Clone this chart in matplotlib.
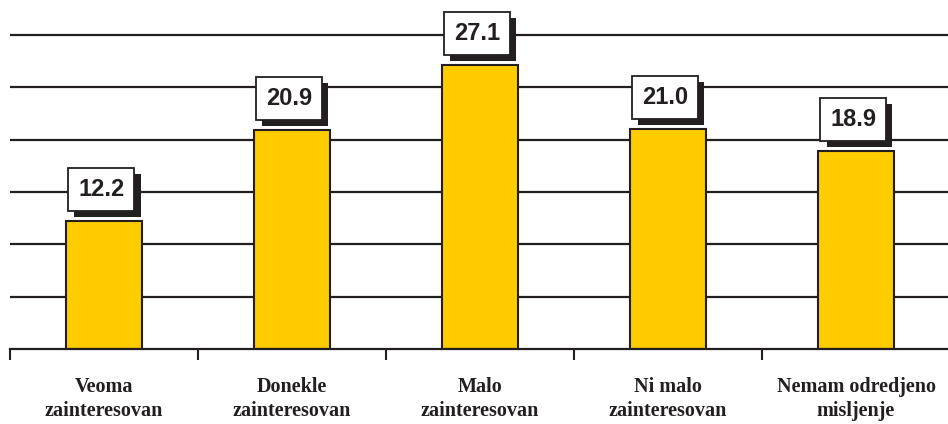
import matplotlib
matplotlib.use("Agg")
import matplotlib.pyplot as plt
import matplotlib.patheffects as pe
import numpy as np

categories = ["Veoma\nzainteresovan", "Donekle\nzainteresovan", "Malo\nzainteresovan",
              "Ni malo\nzainteresovan", "Nemam odredjeno\nmisljenje"]
values = [12.2, 20.9, 27.1, 21.0, 18.9]
gridvals = [5, 10, 15, 20, 25, 30]

W, H = 948, 424
fig = plt.figure(figsize=(W / 100, H / 100), dpi=100)
x0, x1 = 10, 950
y_base, y_top = 349, 5
ax = fig.add_axes([x0 / W, (H - y_base) / H, (x1 - x0) / W, (y_base - y_top) / H])

dark = "#231f20"
x = np.arange(len(values))
ax.set_xlim(-0.5, len(values) - 0.5)
ax.set_ylim(0, (y_base - y_top) / 10.47)

for g in gridvals:
    ax.axhline(g, color=dark, lw=1.6, zorder=1)

ax.bar(x, values, width=0.4, color="#FFCC00", edgecolor=dark, linewidth=1.5, zorder=2)

for xi, v in zip(x, values):
    t = ax.annotate(f"{v:.1f}", xy=(xi, v), xytext=(-2, 23), textcoords="offset points",
                    ha="center", va="center", fontsize=17, fontweight="bold",
                    family="Liberation Sans", color=dark, zorder=5,
                    bbox=dict(boxstyle="square,pad=0.42", fc="white", ec=dark, lw=1.3))
    t.get_bbox_patch().set_path_effects([
        pe.SimplePatchShadow(offset=(4.5, -4.5), shadow_rgbFace=dark, alpha=1.0),
        pe.Normal()])

for s in ["top", "right", "left"]:
    ax.spines[s].set_visible(False)
ax.spines["bottom"].set_color(dark)
ax.spines["bottom"].set_linewidth(1.6)
ax.set_yticks([])

ax.set_xticks(x)
ax.set_xticklabels(categories, fontsize=14.5, fontweight="bold", family="Liberation Serif",
                   color=dark, linespacing=1.3)
ax.tick_params(axis="x", which="major", length=0, pad=20)
ax.set_xticks(np.arange(len(values) + 1) - 0.5, minor=True)
ax.tick_params(axis="x", which="minor", length=8, width=1.5, color=dark, direction="out")

fig.savefig("out.png", dpi=100)
